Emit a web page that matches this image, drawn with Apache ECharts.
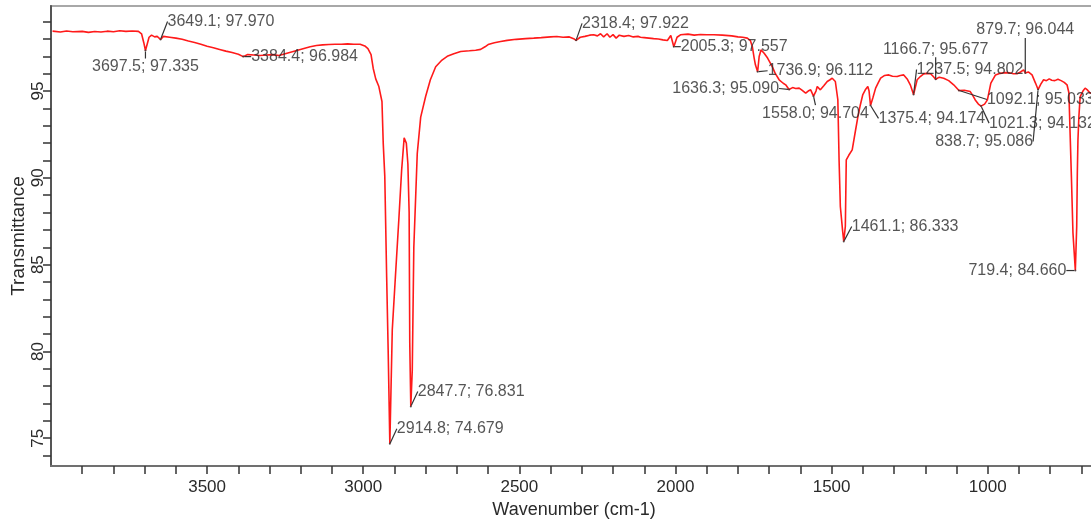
<!DOCTYPE html>
<html>
<head>
<meta charset="utf-8">
<script src="https://cdn.jsdelivr.net/npm/echarts@6/dist/echarts.min.js"></script>
<style>
html,body{margin:0;padding:0;background:#ffffff;}
#chart{width:1091px;height:522px;}
</style>
</head>
<body>
<div id="chart"></div>
<script>
// ---- spectrum data ----
const wavenumbers = [
  3995, 3970, 3950, 3930, 3900, 3880, 3860, 3840, 3820, 3800, 3780, 3760, 3740, 3720, 3710, 3703,
  3697.5, 3692, 3686, 3678, 3668, 3660, 3649.1, 3640, 3620, 3600, 3580, 3560, 3540, 3520, 3500,
  3480, 3460, 3440, 3420, 3400, 3384.4, 3370, 3350, 3330, 3310, 3290, 3270, 3250, 3230, 3210,
  3190, 3170, 3150, 3130, 3110, 3090, 3070, 3050, 3030, 3010, 2995, 2985, 2975, 2968, 2960,
  2950, 2940, 2936, 2931, 2925, 2920, 2914.8, 2907, 2897, 2886, 2877, 2869, 2862, 2857, 2853,
  2851, 2847.7, 2843, 2838, 2827, 2816, 2800, 2785, 2768, 2750, 2731, 2710, 2688, 2660, 2640,
  2624, 2610, 2600, 2580, 2560, 2539, 2510, 2480, 2454, 2430, 2400, 2380, 2360, 2340, 2326,
  2318.4, 2305, 2290, 2275, 2262, 2250, 2240, 2230, 2219, 2210, 2200, 2190, 2180, 2165, 2150,
  2135, 2120, 2112, 2100, 2085, 2070, 2055, 2040, 2026, 2015, 2005.3, 1995, 1984, 1960, 1940,
  1920, 1900, 1877, 1850, 1820, 1800, 1785, 1770, 1760, 1754, 1748, 1744, 1736.9, 1732, 1726,
  1716, 1705, 1690, 1680, 1668, 1655, 1647, 1636.3, 1625, 1615, 1604, 1595, 1583, 1575, 1567,
  1558.0, 1550, 1546, 1536, 1525, 1514, 1505, 1498, 1488, 1480, 1476, 1472, 1465, 1461.1, 1456,
  1453, 1445, 1434, 1424, 1416, 1408, 1400, 1392, 1384, 1380, 1375.4, 1368, 1359, 1350, 1343,
  1330, 1317, 1305, 1290, 1280, 1269, 1258, 1248, 1237.5, 1232, 1226, 1215, 1205, 1195, 1183,
  1175, 1166.7, 1155, 1141, 1125, 1109, 1092.1, 1075, 1056, 1048, 1040, 1030, 1021.3, 1010,
  1001, 990, 975, 960, 945, 930, 918, 906, 895, 885, 879.7, 870, 858, 847, 838.7, 830, 821, 812,
  803, 795, 785, 775, 765, 755, 746, 740, 732, 727, 719.4, 715, 713, 711, 708, 704, 695, 688,
  680, 672, 660
];
const transmittance = [
  98.45, 98.40, 98.46, 98.42, 98.44, 98.38, 98.43, 98.40, 98.45, 98.42, 98.47, 98.44, 98.46, 98.44, 98.30, 97.80,
  97.335, 97.70, 98.10, 98.22, 98.12, 98.15, 97.970, 98.15, 98.10, 98.05, 97.98, 97.88, 97.80, 97.70, 97.58,
  97.50, 97.40, 97.30, 97.22, 97.12, 96.984, 97.10, 97.08, 97.05, 97.08, 97.10, 97.05, 97.15, 97.25, 97.35,
  97.45, 97.55, 97.62, 97.66, 97.68, 97.70, 97.70, 97.72, 97.70, 97.70, 97.60, 97.45, 97.10, 96.30, 95.70,
  95.26, 94.40, 92.00, 90.10, 84.30, 79.90, 74.679, 81.25, 84.30, 87.60, 90.45, 92.30, 92.00, 90.80, 88.00,
  80.50, 76.831, 78.90, 86.00, 91.40, 93.50, 94.70, 95.65, 96.40, 96.75, 97.00, 97.15, 97.28, 97.32, 97.35,
  97.40, 97.55, 97.68, 97.78, 97.85, 97.92, 97.98, 98.02, 98.05, 98.08, 98.12, 98.14, 98.10, 98.12, 98.02,
  97.922, 98.10, 98.15, 98.22, 98.24, 98.18, 98.30, 98.12, 98.30, 98.10, 98.25, 98.05, 98.22, 98.15, 98.20,
  98.12, 98.15, 98.10, 98.08, 98.05, 98.02, 98.00, 97.95, 97.91, 98.20, 97.557, 98.10, 98.24, 98.28, 98.22,
  98.26, 98.24, 98.24, 98.22, 98.18, 98.12, 98.10, 98.05, 97.90, 97.57, 96.90, 96.51, 96.112, 96.99, 97.37,
  97.18, 96.90, 96.41, 96.00, 95.65, 95.45, 95.36, 95.090, 95.20, 95.15, 95.17, 95.05, 94.88, 95.00, 95.07,
  94.704, 95.00, 95.26, 95.07, 95.30, 95.55, 95.65, 95.74, 95.55, 94.50, 91.00, 88.35, 87.00, 86.333, 87.20,
  91.04, 91.30, 91.61, 92.67, 93.50, 94.20, 94.80, 95.07, 95.26, 95.00, 94.174, 94.60, 95.17, 95.50, 95.74,
  95.90, 95.93, 95.85, 95.84, 95.90, 95.93, 95.70, 95.36, 94.802, 95.20, 95.65, 95.85, 95.99, 96.02, 96.00,
  95.85, 95.677, 95.80, 95.74, 95.60, 95.36, 95.033, 95.05, 94.97, 94.75, 94.49, 94.25, 94.132, 94.25,
  94.49, 95.46, 95.93, 96.02, 96.06, 96.05, 96.00, 96.00, 96.10, 96.22, 96.044, 96.10, 95.93, 95.46, 95.086, 95.40, 95.65, 95.60,
  95.70, 95.62, 95.60, 95.68, 95.60, 95.50, 95.36, 94.90, 90.07, 86.83, 84.660, 87.20, 90.29, 92.19, 93.53, 94.68, 95.00, 95.17,
  95.05, 94.88, 94.90
];

// ---- annotated peaks ----
const peakWavenumbers = [3697.5, 3649.1, 3384.4, 2318.4, 2005.3, 1736.9, 1636.3, 1558.0, 1461.1, 1375.4,
  1237.5, 1166.7, 1092.1, 1021.3, 879.7, 838.7, 719.4, 2914.8, 2847.7];
const peakTransmittance = [97.335, 97.970, 96.984, 97.922, 97.557, 96.112, 95.090, 94.704, 86.333, 94.174,
  94.802, 95.677, 95.033, 94.132, 96.044, 95.086, 84.660, 74.679, 76.831];

// ---- axis ticks / labels ----
const xLabelValues = [1000, 1500, 2000, 2500, 3000, 3500];
const xTickValues = [700, 800, 900, 1000, 1100, 1200, 1300, 1400, 1500, 1600, 1700, 1800, 1900, 2000,
  2100, 2200, 2300, 2400, 2500, 2600, 2700, 2800, 2900, 3000, 3100, 3200, 3300, 3400, 3500, 3600,
  3700, 3800, 3900];
const yLabelValues = [75, 80, 85, 90, 95];
const yTickValues = [74, 75, 76, 77, 78, 79, 80, 81, 82, 83, 84, 85, 86, 87, 88, 89, 90, 91, 92, 93,
  94, 95, 96, 97, 98, 99];

// ---- label placement (style only, in px relative to the peak point) ----
const peakLabelPlacement = [
  {offset: [0, 16], align: 'center'},
  {offset: [7, -18], align: 'left'},
  {offset: [8, 0], align: 'left'},
  {offset: [6, -17], align: 'left'},
  {offset: [7, 0], align: 'left'},
  {offset: [10, -1], align: 'left'},
  {offset: [-10, -1], align: 'right'},
  {offset: [2, 17], align: 'center'},
  {offset: [8, -15], align: 'left'},
  {offset: [8, 13], align: 'left'},
  {offset: [3, -25], align: 'left'},
  {offset: [0, -30], align: 'center'},
  {offset: [28, 9], align: 'left'},
  {offset: [8, 17], align: 'left'},
  {offset: [0, -43], align: 'center'},
  {offset: [-5, 52], align: 'right'},
  {offset: [-9, 0], align: 'right'},
  {offset: [7, -15], align: 'left'},
  {offset: [7, -15], align: 'left'}
];

const FONT = "'Liberation Sans', Arial, sans-serif";
const spectrum = wavenumbers.map((w, i) => [w, transmittance[i]]);
const peaks = peakWavenumbers.map((w, i) => ({
  value: [w, peakTransmittance[i]],
  label: peakLabelPlacement[i]
}));

const chart = echarts.init(document.getElementById('chart'), null, {renderer: 'canvas'});
chart.setOption({
  animation: false,
  backgroundColor: '#ffffff',
  grid: {
    left: 51, right: -6, top: 6, bottom: 56,
    containLabel: false,
    outerBoundsMode: 'none',
    show: true, borderColor: '#a8a8a8', borderWidth: 2, backgroundColor: 'transparent'
  },
  xAxis: {
    type: 'value',
    inverse: true,
    min: 650,
    max: 4000,
    name: 'Wavenumber (cm-1)',
    nameLocation: 'middle',
    nameGap: 35,
    nameMoveOverlap: false,
    nameTextStyle: {fontFamily: FONT, fontSize: 18, color: '#2a2a2a'},
    axisLine: {show: true, lineStyle: {color: '#707070', width: 2}},
    axisTick: {show: true, customValues: xTickValues, length: 8, inside: false,
      lineStyle: {color: '#333', width: 1.5}},
    axisLabel: {customValues: xLabelValues, fontFamily: FONT, fontSize: 17, color: '#2a2a2a', margin: 13,
      formatter: v => String(v)},
    splitLine: {show: false}
  },
  yAxis: {
    type: 'value',
    min: 73.4,
    max: 99.9,
    name: 'Transmittance',
    nameLocation: 'middle',
    nameGap: 23,
    nameMoveOverlap: false,
    nameTextStyle: {fontFamily: FONT, fontSize: 19, color: '#2a2a2a'},
    axisLine: {show: true, lineStyle: {color: '#555', width: 2}},
    axisTick: {show: true, customValues: yTickValues, length: 8, inside: false,
      lineStyle: {color: '#333', width: 1.5}},
    axisLabel: {customValues: yLabelValues, rotate: 90, fontFamily: FONT, fontSize: 17, color: '#2a2a2a', margin: 4,
      formatter: v => String(v)},
    splitLine: {show: false}
  },
  series: [
    {
      type: 'line',
      data: spectrum,
      symbol: 'none',
      lineStyle: {color: '#ff1a1a', width: 1.6},
      z: 2
    },
    {
      type: 'scatter',
      data: peaks,
      symbol: 'circle',
      symbolSize: 2,
      itemStyle: {color: '#333'},
      label: {
        show: true,
        position: 'inside',
        verticalAlign: 'middle',
        fontFamily: FONT,
        fontSize: 16,
        color: '#2b2b2b',
        formatter: p => p.value[0].toFixed(1) + '; ' + p.value[1].toFixed(3)
      },
      labelLine: {show: true, lineStyle: {color: '#333', width: 1.2}},
      z: 3
    }
  ]
});
</script>
</body>
</html>
